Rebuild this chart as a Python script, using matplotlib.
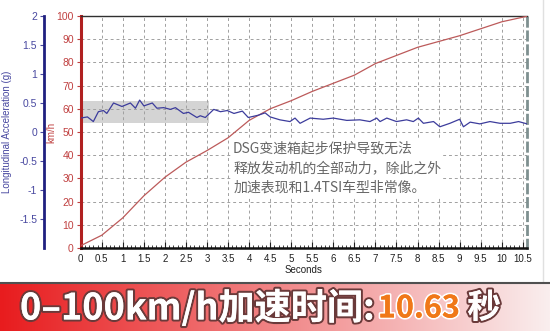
import numpy as np
import matplotlib
matplotlib.use('Agg')
import matplotlib.pyplot as plt
import matplotlib.patheffects as pe
from matplotlib.ticker import MultipleLocator, FormatStrFormatter

plt.rcParams['font.family'] = ['Liberation Sans', 'Noto Sans CJK SC', 'DejaVu Sans']

# speed (km/h) vs time (s)
speed_t = [0, 0.5, 1, 1.5, 2, 2.5, 3, 3.5, 4, 4.5, 5, 5.5, 6, 6.5, 7,
           7.5, 8, 8.5, 9, 9.5, 10, 10.63]
speed_kmh = [1, 5.5, 13, 22.5, 30.5, 37, 42, 47.5, 55, 60, 63.5, 67.5, 71,
             74.5, 79.5, 83, 86.5, 89, 91.5, 94.5, 97.5, 100]

# longitudinal acceleration (g) vs time (s)
acc_t = [0.0, 0.16, 0.3, 0.42, 0.54, 0.62, 0.78, 0.98, 1.18, 1.3, 1.4, 1.5,
         1.7, 1.81, 1.97, 2.13, 2.25, 2.44, 2.56, 2.76, 2.84, 2.96, 3.16,
         3.32, 3.48, 3.64, 3.84, 3.98, 4.22, 4.38, 4.5, 4.73, 4.97, 5.09,
         5.21, 5.45, 5.76, 6.0, 6.32, 6.63, 6.87, 7.03, 7.11, 7.27, 7.5,
         7.74, 7.9, 8.02, 8.14, 8.38, 8.53, 8.77, 9.0, 9.09, 9.25, 9.48,
         9.72, 9.96, 10.2, 10.4, 10.6]
acc_g = [0.24, 0.26, 0.18, 0.35, 0.37, 0.32, 0.50, 0.44, 0.50, 0.41, 0.55,
         0.45, 0.50, 0.41, 0.42, 0.39, 0.42, 0.32, 0.34, 0.25, 0.28, 0.25,
         0.39, 0.35, 0.37, 0.32, 0.36, 0.25, 0.29, 0.33, 0.26, 0.21, 0.18,
         0.24, 0.15, 0.24, 0.22, 0.24, 0.20, 0.21, 0.18, 0.24, 0.18, 0.24,
         0.18, 0.21, 0.18, 0.24, 0.15, 0.18, 0.09, 0.15, 0.22, 0.09, 0.17,
         0.14, 0.18, 0.15, 0.15, 0.18, 0.14]

# highlighted launch window
band_t = [0, 3.05]
band_kmh = [54, 63.5]

note = "DSG变速箱起步保护导致无法\n释放发动机的全部动力，除此之外\n加速表现和1.4TSI车型非常像。"
banner_a = "0–100km/h加速时间:"
banner_b = "10.63"
banner_c = " 秒"

W, H = 550, 331
fig = plt.figure(figsize=(5.5, 3.31), dpi=100)
fig.patch.set_facecolor('white')

ax = fig.add_axes([80.7 / W, (H - 248) / H, (527 - 80.7) / W, 232 / H])
ax.set_xlim(0, 10.6)
ax.set_ylim(0, 100)

ax.fill_between(band_t, band_kmh[0], band_kmh[1], color='#d4d4d4', lw=0, zorder=1)
ax.plot(speed_t, speed_kmh, color='#bc5a5a', lw=0.9, zorder=3)

ax.xaxis.set_major_locator(MultipleLocator(0.5))
ax.xaxis.set_minor_locator(MultipleLocator(0.1))
ax.xaxis.set_major_formatter(FormatStrFormatter('%g'))
ax.yaxis.set_major_locator(MultipleLocator(10))
ax.grid(True, which='major', color='#a0a0a0', ls=(0, (3, 3)), lw=0.7, zorder=0)
ax.tick_params(axis='x', which='both', direction='in', labelsize=7,
               colors='#202020', pad=4)
ax.tick_params(axis='x', which='major', length=4)
ax.tick_params(axis='x', which='minor', length=2)
ax.tick_params(axis='y', direction='out', length=3, labelsize=7.5,
               colors='#c04040', pad=2)
ax.set_xlabel('Seconds', fontsize=7, color='#202020', labelpad=1)

ax.spines['left'].set_color('#b02020')
ax.spines['left'].set_linewidth(2.2)
ax.spines['bottom'].set_color('#101010')
ax.spines['bottom'].set_linewidth(1.8)
ax.spines['top'].set_color('#303030')
ax.spines['top'].set_linewidth(1.0)
ax.spines['right'].set_color('#7f9090')
ax.spines['right'].set_linewidth(2.0)
ax.spines['right'].set_linestyle((0, (3, 2)))

ax.text(-0.065, 0.5, 'km/h', transform=ax.transAxes, rotation=90,
        fontsize=7, color='#c04040', ha='center', va='center')

ax.text(3.62, 46, note, fontsize=10, color='#666666', va='top', ha='left',
        linespacing=1.5, family=['Noto Sans CJK SC', 'DejaVu Sans'],
        bbox=dict(facecolor='white', edgecolor='none', pad=1), zorder=6)

ax2 = ax.twinx()
ax2.set_ylim(-2, 2)
ax2.plot(acc_t, acc_g, color='#3c3c9c', lw=0.9, zorder=4)
ax2.spines['left'].set_position(('outward', (80.7 - 44) * 0.72))
ax2.spines['left'].set_visible(True)
ax2.spines['left'].set_color('#202080')
ax2.spines['left'].set_linewidth(2.0)
for s in ['right', 'top', 'bottom']:
    ax2.spines[s].set_visible(False)
ax2.yaxis.set_ticks_position('left')
ax2.yaxis.set_label_position('left')
ax2.set_yticks(np.arange(-1.5, 2.01, 0.5))
ax2.yaxis.set_major_formatter(FormatStrFormatter('%g'))
ax2.tick_params(axis='y', direction='out', length=3, labelsize=7.5,
                colors='#4848a0', pad=2)
ax2.set_ylabel('Longitudinal Acceleration (g)', fontsize=7, color='#4848a0',
               labelpad=5)

# faint frame edge on the right and bottom
fig.add_artist(plt.Line2D([543 / W, 543 / W], [(H - 282) / H, 1],
                          color='#e0e0e0', lw=1))
fig.add_artist(plt.Line2D([0, 1], [(H - 283) / H, (H - 283) / H],
                          color='#505050', lw=1.5))

# banner with gradient
bax = fig.add_axes([0, 0, 1, 47 / H])
bax.set_axis_off()
grad = np.linspace(0, 1, 256)
c0 = np.array([232, 28, 30]) / 255
c1 = np.array([250, 238, 238]) / 255
rgb = c0[None, :] * (1 - grad[:, None]) + c1[None, :] * grad[:, None]
bax.imshow(rgb[None, :, :], aspect='auto', extent=[0, 1, 0, 1])
bax.set_xlim(0, 1)
bax.set_ylim(0, 1)

shadow = [pe.withStroke(linewidth=3, foreground='#6a3a3a'), pe.Normal()]
bfont = ['Noto Sans CJK SC', 'DejaVu Sans']
t1 = bax.text(20 / W, 0.48, banner_a, fontsize=26, fontweight='bold',
              color='white', va='center', ha='left', family=bfont,
              path_effects=shadow)
fig.canvas.draw()
bb = t1.get_window_extent()
x2 = bax.transAxes.inverted().transform((bb.x1, bb.y0))[0]
t2 = bax.text(x2 + 0.005, 0.48, banner_b, fontsize=22, fontweight='bold',
              color='#f07818', va='center', ha='left', family=bfont,
              path_effects=[pe.withStroke(linewidth=2.5, foreground='#ffffff'),
                            pe.Normal()])
fig.canvas.draw()
bb = t2.get_window_extent()
x3 = bax.transAxes.inverted().transform((bb.x1, bb.y0))[0]
bax.text(x3, 0.48, banner_c, fontsize=24, fontweight='bold', color='white',
         va='center', ha='left', family=bfont, path_effects=shadow)

fig.savefig('out.png', dpi=100, facecolor='white')
